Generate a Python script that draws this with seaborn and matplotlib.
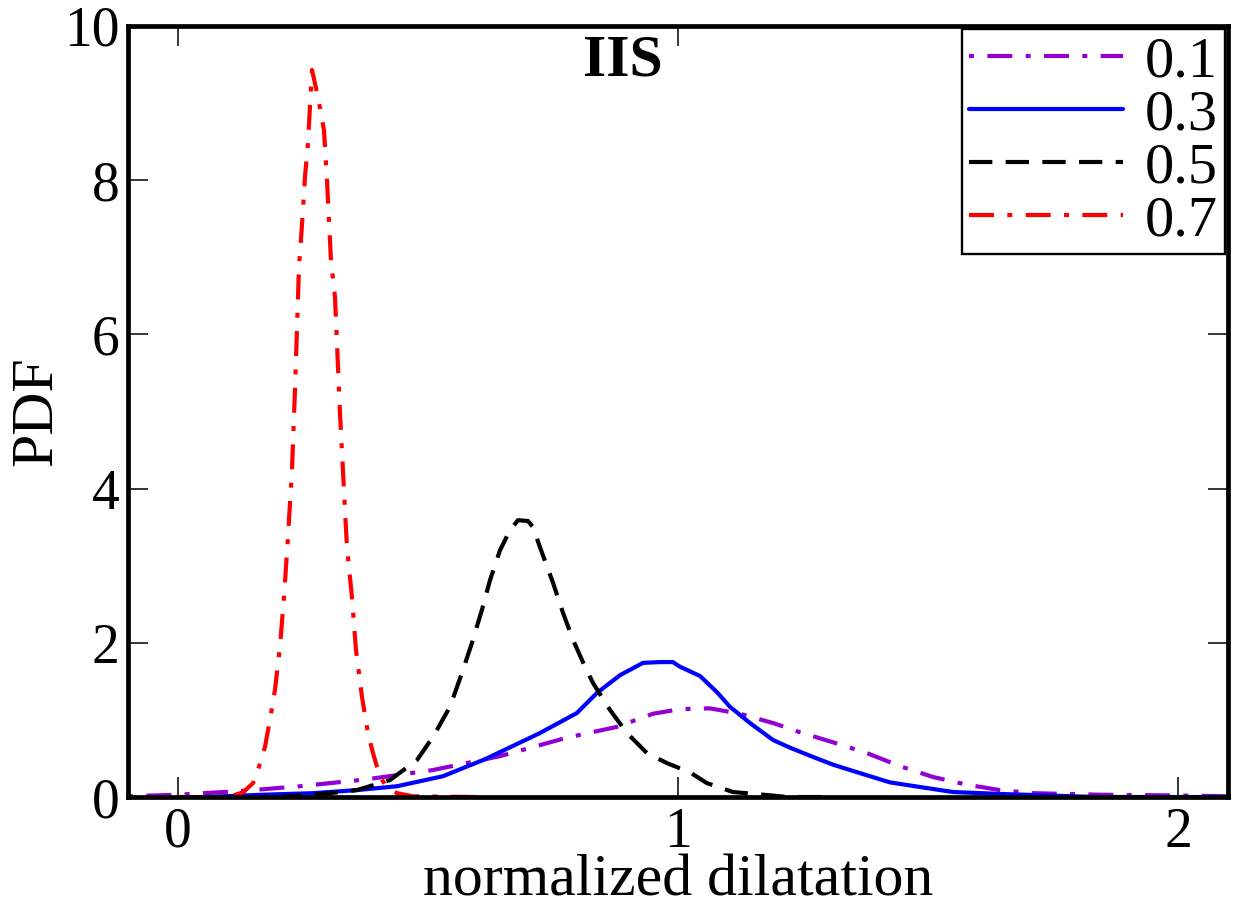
import matplotlib
matplotlib.use("Agg")
import matplotlib.pyplot as plt
import seaborn as sns
import pandas as pd

# ---- data ----
labels = ["0.1", "0.3", "0.5", "0.7"]

x_01 = [-0.1, 0.0, 0.13, 0.244, 0.378, 0.51, 0.644, 0.778, 0.878, 0.95, 1.004,
        1.064, 1.124, 1.19, 1.244, 1.31, 1.378, 1.444, 1.51, 1.578, 1.644,
        1.71, 1.778, 1.844, 2.0, 2.1]
y_01 = [0.01, 0.03, 0.08, 0.14, 0.23, 0.35, 0.53, 0.77, 0.91, 1.08, 1.14,
        1.15, 1.08, 0.96, 0.84, 0.71, 0.57, 0.40, 0.26, 0.16, 0.09,
        0.05, 0.04, 0.03, 0.02, 0.01]

x_03 = [0.05, 0.17, 0.27, 0.358, 0.438, 0.53, 0.614, 0.724, 0.798, 0.838,
        0.884, 0.93, 0.964, 0.99, 1.004, 1.044, 1.078, 1.104, 1.144, 1.19,
        1.224, 1.27, 1.31, 1.364, 1.424, 1.484, 1.55, 1.644, 1.71, 1.84, 2.1]
y_03 = [0.0, 0.03, 0.05, 0.09, 0.14, 0.27, 0.49, 0.83, 1.09, 1.35,
        1.58, 1.74, 1.75, 1.75, 1.69, 1.57, 1.36, 1.17, 0.96, 0.74,
        0.64, 0.52, 0.42, 0.31, 0.19, 0.13, 0.065, 0.04, 0.026, 0.0, 0.0]

x_05 = [0.2, 0.304, 0.358, 0.424, 0.478, 0.51, 0.544, 0.568, 0.588, 0.608,
        0.624, 0.644, 0.664, 0.68, 0.70, 0.71, 0.724, 0.75, 0.77, 0.79,
        0.814, 0.83, 0.864, 0.898, 0.938, 0.978, 1.024, 1.058, 1.11, 1.178,
        1.22, 1.3]
y_05 = [0.0, 0.05, 0.09, 0.22, 0.48, 0.78, 1.17, 1.61, 2.0, 2.43,
        2.81, 3.2, 3.46, 3.59, 3.58, 3.50, 3.24, 2.78, 2.39, 2.04,
        1.69, 1.48, 1.13, 0.83, 0.57, 0.44, 0.32, 0.18, 0.065, 0.026,
        0.0, 0.0]

x_07 = [0.0, 0.1, 0.13, 0.15, 0.16, 0.174, 0.184, 0.194, 0.204, 0.212, 0.22,
        0.228, 0.234, 0.238, 0.242, 0.248, 0.254, 0.26, 0.268, 0.28, 0.292,
        0.298, 0.306, 0.314, 0.318, 0.324, 0.332, 0.338, 0.348, 0.356, 0.368,
        0.38, 0.39, 0.404, 0.418, 0.438, 0.47, 0.6]
y_07 = [0.0, 0.0, 0.06, 0.18, 0.35, 0.65, 1.0, 1.39, 1.95, 2.59, 3.37,
        4.24, 5.28, 6.06, 6.87, 7.42, 8.04, 8.48, 9.43, 9.08, 8.65,
        8.0, 6.96, 6.49, 5.89, 4.98, 3.98, 3.24, 2.59, 1.91, 1.30,
        0.83, 0.57, 0.26, 0.13, 0.05, 0.01, 0.0]

xticks = [0, 1, 2]
yticks = [0, 2, 4, 6, 8, 10]

series = [
    (labels[0], x_01, y_01, "#9400D3", (0, (1.2, 3.2, 6.0, 3.2))),
    (labels[1], x_03, y_03, "#0000FF", "-"),
    (labels[2], x_05, y_05, "#000000", (0, (5.6, 3.2))),
    (labels[3], x_07, y_07, "#FF0000", (0, (6.0, 3.2, 1.2, 3.2))),
]

sns.set_style("ticks")
plt.rcParams["font.family"] = ["Liberation Serif", "DejaVu Serif"]
plt.rcParams["text.color"] = "black"
plt.rcParams["axes.labelcolor"] = "black"
plt.rcParams["xtick.color"] = "black"
plt.rcParams["ytick.color"] = "black"

fig = plt.figure(figsize=(12.4, 9.11), dpi=100)
ax = fig.add_axes([0.1032, 0.1251, 0.8871, 0.8464])

for lab, xs, ys, col, ls in series:
    df = pd.DataFrame({"x": xs, "y": ys})
    sns.lineplot(data=df, x="x", y="y", ax=ax, color=col, linestyle=ls,
                 linewidth=3.0, label=lab, sort=False, estimator=None)

ax.set_xlim(-0.1, 2.1)
ax.set_ylim(0, 10)
ax.set_xticks(xticks)
ax.set_yticks(yticks)
ax.set_xticklabels([str(t) for t in xticks])
ax.set_yticklabels([str(t) for t in yticks])

ax.tick_params(axis="both", which="major", direction="in", length=14.5,
               width=1.1, top=True, right=True, labelsize=40,
               colors="black", labelcolor="black")
ax.tick_params(axis="x", pad=7)
ax.tick_params(axis="y", pad=6)

for sp in ax.spines.values():
    sp.set_linewidth(3.4)
    sp.set_color("black")
    sp.set_visible(True)

ax.set_xlabel("normalized dilatation", fontsize=43, labelpad=-3,
              color="black")
ax.set_ylabel("PDF", fontsize=43, labelpad=0, color="black")

ax.text(0.45, 0.936, "IIS", transform=ax.transAxes, ha="center",
        va="baseline", fontsize=43, fontweight="bold", color="black")

leg = ax.legend(loc="upper right", bbox_to_anchor=(1.0, 1.0),
                borderaxespad=0.05, fontsize=42, frameon=True, fancybox=False,
                framealpha=1, edgecolor="black", labelspacing=0.0,
                handlelength=2.64, handletextpad=0.37, borderpad=0.12)
leg.get_frame().set_linewidth(1.7)
for t in leg.get_texts():
    t.set_color("black")

fig.savefig("out.png", dpi=100)
